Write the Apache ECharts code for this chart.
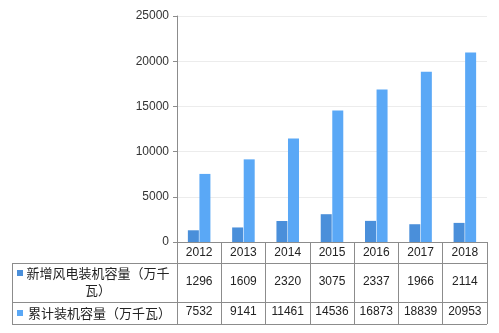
<!DOCTYPE html>
<html>
<head>
<meta charset="utf-8">
<script src="https://cdn.jsdelivr.net/npm/echarts@6/dist/echarts.min.js"></script>
<style>html,body{margin:0;padding:0;background:#fff;}#c{width:499px;height:333px;}</style>
</head>
<body>
<div id="c"></div>
<script>
var years = ['2012','2013','2014','2015','2016','2017','2018'];
var newCap = [1296, 1609, 2320, 3075, 2337, 1966, 2114];
var cumCap = [7532, 9141, 11461, 14536, 16873, 18839, 20953];
var seriesNames = ['新增风电装机容量（万千瓦）', '累计装机容量（万千瓦）'];
var yTicks = {min: 0, max: 25000, interval: 5000};

var colors = ['#4a8fda', '#5aa8f6'];
var lineColor = '#8c8c8c';
var numFont = 'Liberation Sans, Arial, sans-serif';
var cjkFont = '"Noto Sans CJK SC", sans-serif';

var chart = echarts.init(document.getElementById('c'), null, {renderer: 'canvas'});
var gridLeft = 177, gridRight = 12, gridTop = 16, gridBottom = 91;
var tableLeft = 12;
var rightX = 499 - gridRight;

function rowAxis(vals, offset) {
  return {
    type: 'category', gridIndex: 0, position: 'bottom', offset: offset,
    data: vals.map(String),
    axisLine: {show: false}, axisTick: {show: false}, splitLine: {show: false},
    axisLabel: {interval: 0, margin: 0, fontSize: 12, color: '#222', fontFamily: numFont}
  };
}

var option = {
  animation: false,
  grid: {left: gridLeft, right: gridRight, top: gridTop, bottom: gridBottom, containLabel: false},
  xAxis: [
    {
      type: 'category', data: years,
      axisLine: {show: true, lineStyle: {color: lineColor, width: 1}},
      axisTick: {show: true, interval: 0, length: 82, lineStyle: {color: lineColor}},
      axisLabel: {interval: 0, margin: 5, fontSize: 12, color: '#222', fontFamily: numFont},
      splitLine: {show: false}
    },
    rowAxis(newCap, 34),
    rowAxis(cumCap, 64)
  ],
  yAxis: {
    type: 'value', min: yTicks.min, max: yTicks.max, interval: yTicks.interval,
    axisLine: {show: true, lineStyle: {color: lineColor}},
    axisTick: {show: true, length: 4, lineStyle: {color: lineColor}},
    axisLabel: {margin: 8, fontSize: 12, color: '#333', fontFamily: numFont,
      formatter: function (v) { return String(v); }},
    splitLine: {show: true, lineStyle: {color: '#ececec'}}
  },
  series: [
    {name: seriesNames[0], type: 'bar', data: newCap, barWidth: 11, barGap: '5%',
     itemStyle: {color: colors[0]}},
    {name: seriesNames[1], type: 'bar', data: cumCap, barWidth: 11, barGap: '5%',
     itemStyle: {color: colors[1]}}
  ],
  graphic: [
    {type: 'line', shape: {x1: tableLeft, y1: 263.5, x2: rightX, y2: 263.5}, style: {stroke: lineColor, lineWidth: 1}},
    {type: 'line', shape: {x1: tableLeft, y1: 302.5, x2: rightX, y2: 302.5}, style: {stroke: lineColor, lineWidth: 1}},
    {type: 'line', shape: {x1: tableLeft, y1: 324.5, x2: rightX, y2: 324.5}, style: {stroke: lineColor, lineWidth: 1}},
    {type: 'line', shape: {x1: tableLeft + 0.5, y1: 263.5, x2: tableLeft + 0.5, y2: 324.5}, style: {stroke: lineColor, lineWidth: 1}},
    {type: 'rect', shape: {x: 17, y: 270, width: 6, height: 6}, style: {fill: colors[0]}},
    {type: 'text', x: 98, y: 265, style: {text: seriesNames[0], width: 150, overflow: 'break', align: 'center',
      font: '13px ' + cjkFont, fill: '#222', lineHeight: 17}},
    {type: 'rect', shape: {x: 17, y: 310, width: 6, height: 6}, style: {fill: colors[1]}},
    {type: 'text', x: 28, y: 313, style: {text: seriesNames[1], align: 'left', verticalAlign: 'middle',
      font: '13px ' + cjkFont, fill: '#222'}}
  ]
};
chart.setOption(option);
</script>
</body>
</html>
